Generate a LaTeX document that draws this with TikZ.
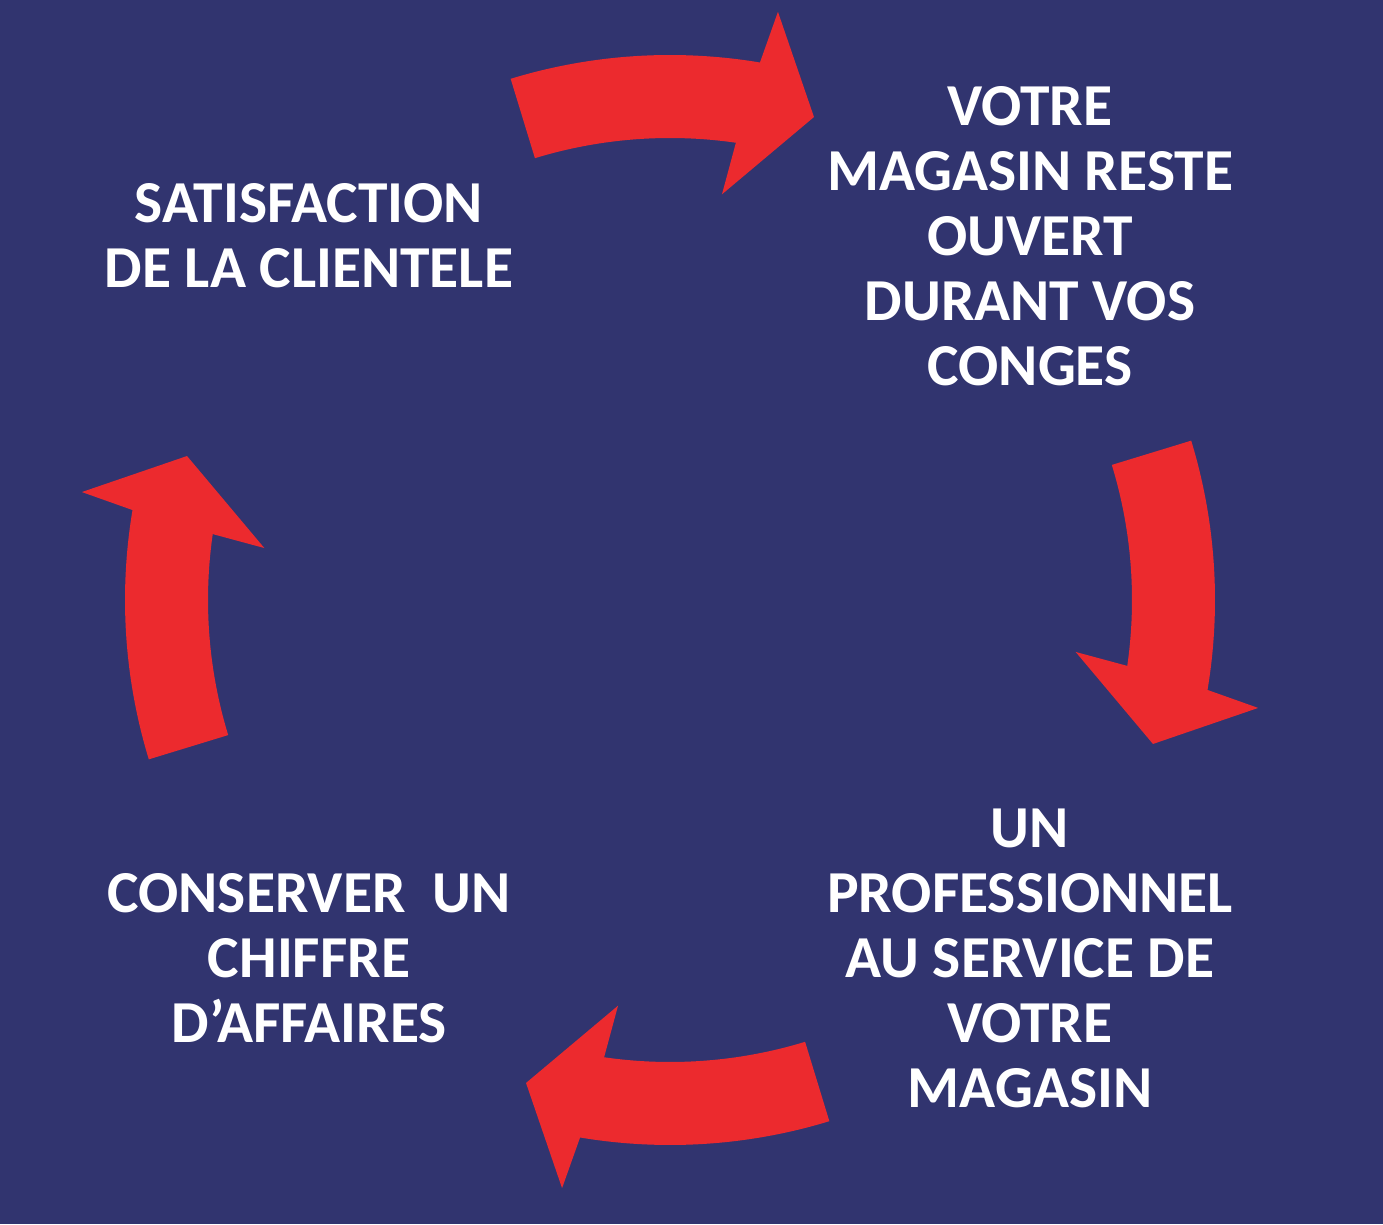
\documentclass[tikz,border=0pt]{standalone}
\usepackage{fontspec}
\setmainfont{Carlito}
\definecolor{bgblue}{HTML}{31346F}
\definecolor{arrowred}{HTML}{EC2A2E}
\begin{document}
\begin{tikzpicture}[x=1pt,y=1pt,
  lbl/.style={text=white,align=center,inner sep=0pt,
    font=\fontsize{59.5}{65}\selectfont\bfseries},
  redarrow/.style={fill=arrowred,draw=none}]
\fill[bgblue] (0,0) rectangle (1383,1224);
\useasboundingbox (0,0) rectangle (1383,1224);
\coordinate (C) at (670,624);
\foreach \r in {0,-90,-180,-270}{
  \begin{scope}[shift={(C)},rotate=\r]
    \fill[redarrow] (107:545) arc[start angle=107,end angle=80.5,radius=545]
      -- (79.6:598) -- (73.4:504) -- (82.7:409) -- (81.8:462)
      arc[start angle=81.8,end angle=107,radius=462] -- cycle;
  \end{scope}
}
\node[lbl] (tl) at (309,988) {SATISFACTION\\DE LA CLIENTELE};
\node[lbl] (tr) at (1030,988) {VOTRE\\MAGASIN RESTE\\OUVERT\\DURANT VOS\\CONGES};
\node[lbl] (br) at (1030,266) {UN\\PROFESSIONNEL\\AU SERVICE DE\\VOTRE\\MAGASIN};
\node[lbl] (bl) at (309,266) {CONSERVER\ \ UN\\CHIFFRE\\D’AFFAIRES};
\end{tikzpicture}
\end{document}
